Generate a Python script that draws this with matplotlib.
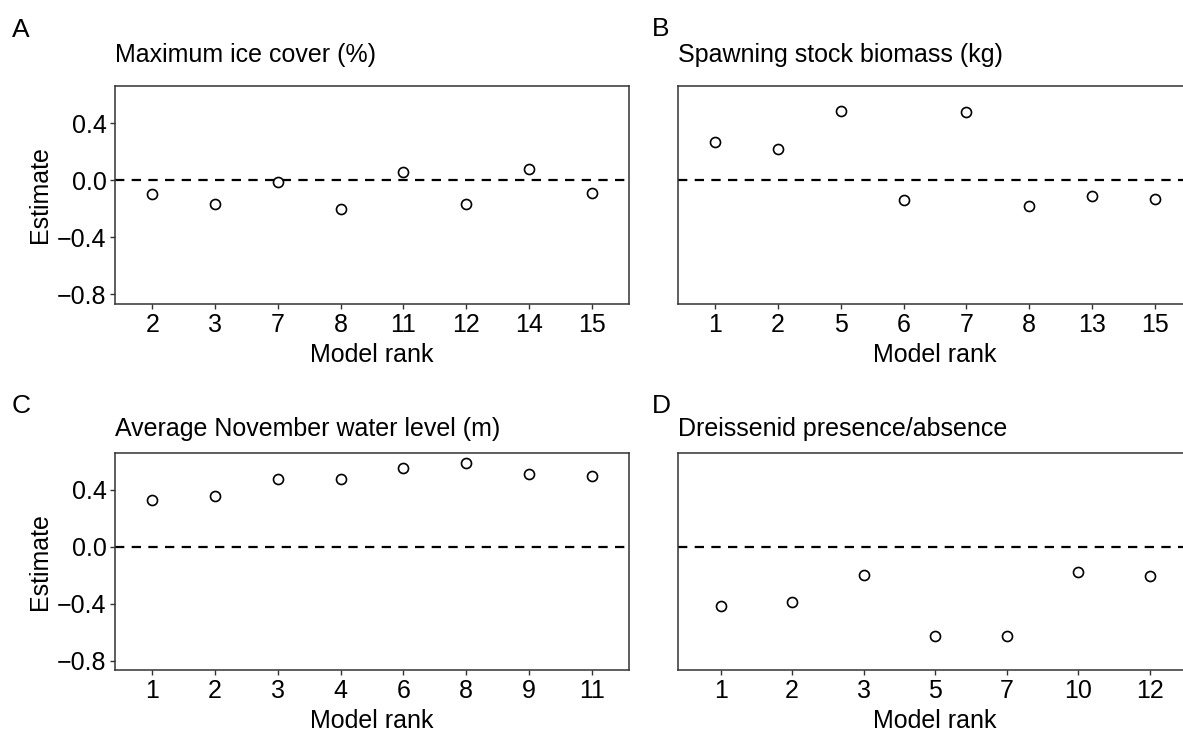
import matplotlib
matplotlib.use("Agg")
import matplotlib.pyplot as plt

plt.rcParams['font.family'] = ['Liberation Sans', 'DejaVu Sans']

# Panel data (model rank -> estimate)
ice_ranks = ['2', '3', '7', '8', '11', '12', '14', '15']
ice_est = [-0.10, -0.17, -0.014, -0.20, 0.059, -0.17, 0.078, -0.092]

ssb_ranks = ['1', '2', '5', '6', '7', '8', '13', '15']
ssb_est = [0.268, 0.216, 0.487, -0.141, 0.478, -0.184, -0.113, -0.132]

water_ranks = ['1', '2', '3', '4', '6', '8', '9', '11']
water_est = [0.327, 0.358, 0.477, 0.477, 0.557, 0.587, 0.508, 0.498]

dreis_ranks = ['1', '2', '3', '5', '7', '10', '12']
dreis_est = [-0.416, -0.388, -0.199, -0.627, -0.627, -0.178, -0.208]

titles = ['Maximum ice cover (%)', 'Spawning stock biomass (kg)',
          'Average November water level (m)', 'Dreissenid presence/absence']
tags = ['A', 'B', 'C', 'D']
yticks = [-0.8, -0.4, 0.0, 0.4]
ytick_labels = ['\u22120.8', '\u22120.4', '0.0', '0.4']

W, H = 1183, 732
fig = plt.figure(figsize=(W / 100, H / 100), dpi=100)

# panel boxes in pixels: left, top
pw, ph = 514.7, 217.4
boxes = [(114.7, 86.3), (677.7, 86.3), (114.7, 453.0), (677.7, 453.0)]
title_pads = [17.3, 17.3, 12.3, 12.3]
tag_pos = [(12, 36.7), (652, 36.5), (12, 413.3), (652, 413.3)]

data = [(ice_ranks, ice_est), (ssb_ranks, ssb_est),
        (water_ranks, water_est), (dreis_ranks, dreis_est)]

for i, ((ranks, est), (left, top)) in enumerate(zip(data, boxes)):
    ax = fig.add_axes([left / W, 1 - (top + ph) / H, pw / W, ph / H])
    ax.axhline(0, color='black', lw=1.6, linestyle=(0, (4.2, 3.3)), zorder=1)
    ax.scatter(ranks, est, s=52, facecolors='white', edgecolors='black',
               linewidths=1.2, zorder=3)
    ax.set_xlim(-0.6, len(ranks) - 0.4)
    ax.set_ylim(-0.868, 0.659)

    for sp in ax.spines.values():
        sp.set_color('#333333')
        sp.set_linewidth(1.1)
    ax.tick_params(axis='x', length=3.4, width=1.0, color='#333333',
                   labelsize=18, pad=3, labelcolor='black')
    if i % 2 == 0:
        ax.set_yticks(yticks)
        ax.set_yticklabels(ytick_labels)
        ax.tick_params(axis='y', length=3.4, width=1.0, color='#333333',
                       labelsize=18, pad=2.5, labelcolor='black')
        ax.set_ylabel('Estimate', fontsize=18)
        ax.yaxis.set_label_coords(-0.122, 0.5)
    else:
        ax.set_yticks([])

    ax.set_xlabel('Model rank', fontsize=18, va='baseline')
    ax.xaxis.set_label_coords(0.5, -58 / ph)
    ax.set_title(titles[i], loc='left', fontsize=18, pad=title_pads[i])

    tx, ty = tag_pos[i]
    fig.text(tx / W, 1 - ty / H, tags[i], fontsize=19, va='baseline', ha='left')

fig.savefig('out.png', dpi=100)
